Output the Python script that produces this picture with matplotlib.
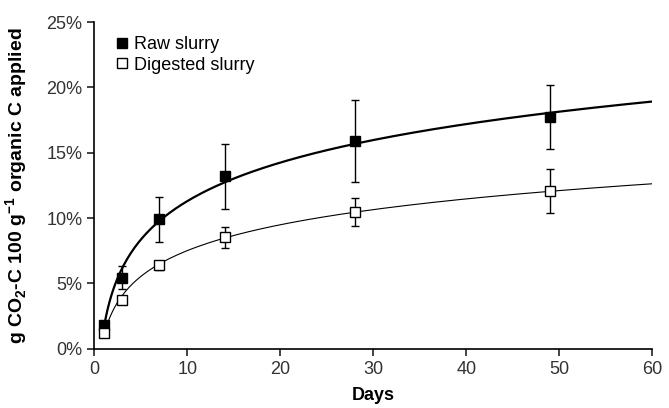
import numpy as np
import matplotlib
matplotlib.use("Agg")
import matplotlib.pyplot as plt
from matplotlib.ticker import FuncFormatter

plt.rcParams["font.family"] = ["Liberation Sans", "DejaVu Sans"]
plt.rcParams["mathtext.fontset"] = "custom"
plt.rcParams["mathtext.rm"] = "Liberation Sans"
plt.rcParams["mathtext.bf"] = "Liberation Sans:bold"

days = [1, 3, 7, 14, 28, 49]
raw = [1.8, 5.45, 9.9, 13.2, 15.9, 17.7]
raw_err = [0.1, 0.9, 1.75, 2.5, 3.1, 2.45]
digested = [1.2, 3.75, 6.4, 8.55, 10.5, 12.1]
digested_err = [0.1, 0.2, 0.35, 0.8, 1.07, 1.68]


def log_fit(x, y):
    a, c = np.polyfit(np.log(x), y, 1)
    xs = np.linspace(1, 60, 300)
    return xs, a * np.log(xs) + c


fig = plt.figure(figsize=(6.69, 4.08), dpi=100)
ax = fig.add_axes([0.141, 0.145, 0.834, 0.801])

xs, ys = log_fit(days, raw)
ax.plot(xs, ys, color="black", lw=1.6, zorder=2)
xs, ys = log_fit(days, digested)
ax.plot(xs, ys, color="black", lw=0.8, zorder=2)

ax.errorbar(days, raw, yerr=raw_err, fmt="s", color="black", ms=7.5,
            mfc="black", mec="black", ecolor="black", elinewidth=1.0,
            capsize=3, capthick=1.0, zorder=3, label="Raw slurry")
ax.errorbar(days, digested, yerr=digested_err, fmt="s", color="black", ms=7.5,
            mfc="white", mec="black", mew=1.0, ecolor="black", elinewidth=1.0,
            capsize=3, capthick=1.0, zorder=3, label="Digested slurry")

ax.set_xlim(0, 60)
ax.set_ylim(0, 25)
ax.set_xticks(range(0, 61, 10))
ax.set_yticks(range(0, 26, 5))
ax.yaxis.set_major_formatter(FuncFormatter(lambda v, p: f"{v:.0f}%"))
ax.tick_params(labelsize=13, colors="#222222", length=5, width=1.2)
ax.tick_params(axis="both", labelcolor="#333333")
for s in ["top", "right"]:
    ax.spines[s].set_visible(False)
for s in ["left", "bottom"]:
    ax.spines[s].set_linewidth(1.2)

ax.set_xlabel("Days", fontsize=13, fontweight="bold", labelpad=7)
ax.set_ylabel(r"g CO$_\mathbf{2}$-C 100 g$^\mathbf{-1}$ organic C applied",
              fontsize=14, fontweight="bold", labelpad=12)

handles, labels = ax.get_legend_handles_labels()
handles = [h[0] for h in handles]
ax.legend(handles, labels, loc="upper left", bbox_to_anchor=(0.02, 0.99),
          frameon=False, fontsize=13, handlelength=0.6, handletextpad=0.4,
          labelspacing=0.2, borderaxespad=0.2)

fig.savefig("out.png", dpi=100)
